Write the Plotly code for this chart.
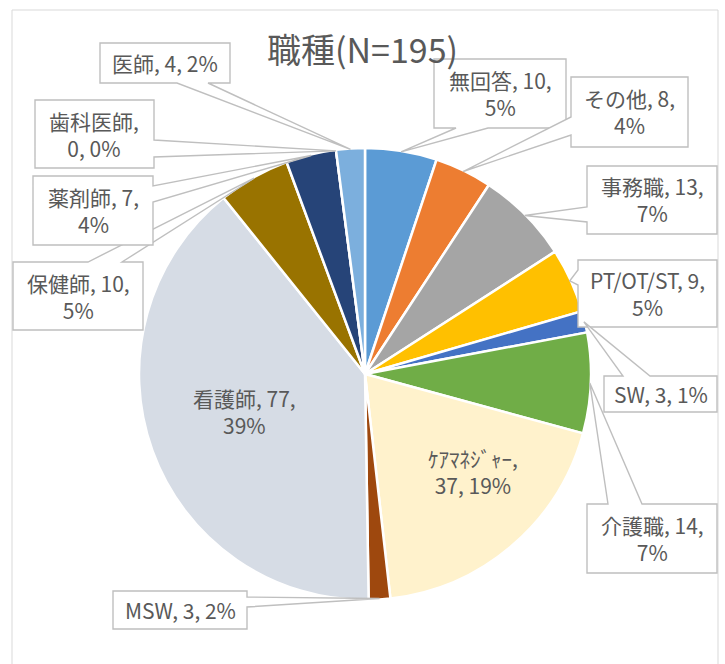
import math
import plotly.graph_objects as go

# ---------------- data ----------------
categories = ["無回答", "その他", "事務職", "PT/OT/ST", "SW", "介護職", "ｹｱﾏﾈｼﾞｬｰ",
              "MSW", "看護師", "保健師", "薬剤師", "歯科医師", "医師"]
counts = [10, 8, 13, 9, 3, 14, 37, 3, 77, 10, 7, 0, 4]
pct_labels = ["5%", "4%", "7%", "5%", "1%", "7%", "19%", "2%", "39%", "5%", "4%", "0%", "2%"]
title_text = "職種(N=195)"

# ---------------- style / layout ----------------
colors = ["#5B9BD5", "#ED7D31", "#A5A5A5", "#FFC000", "#4472C4", "#70AD47", "#FFF2CC",
          "#9E480E", "#D6DCE5", "#997300", "#264478", "#636363", "#7CAFDD"]
W, H = 725, 664
CX, CY, R = 365, 374, 226
FONT = "Noto Sans CJK JP"
TXT = "#595959"
LINE = "#BFBFBF"

# line-break style per label: 'name' -> break after name, 'value' -> after value, None -> single line
breaks = ["value", "value", "value", "value", None, "value", "name",
          None, "value", "value", "value", "name", None]
# callout boxes (x0, y0, x1, y1) in pixels, side of wedge, wedge base positions; None -> inside label
callouts = [
    ((434, 59, 566, 128), "bottom", 456, 488),
    ((571, 77, 688, 147), "left", 117, 135),
    ((587, 166, 717, 234), "left", 207, 222),
    ((578, 260, 717, 327), "left", 270, 285),
    ((604, 376, 717, 412), "top", 623, 650),
    ((587, 504, 717, 573), "top", 608, 642),
    None,
    ((113, 591, 247, 629), "right", 597, 607),
    None,
    ((13, 262, 143, 330), "top", 88, 122),
    ((33, 176, 153, 245), "right", 186, 202),
    ((35, 100, 154, 168), "right", 140, 157),
    ((100, 43, 230, 83), "bottom", 177, 208),
]
inside_pos = {6: (473, 471), 8: (244, 411)}


def px(x):
    return x / W


def py(y):
    return 1 - y / H


total = sum(counts)

fig = go.Figure(go.Pie(
    labels=categories, values=counts, sort=False, direction="clockwise", rotation=0,
    marker=dict(colors=colors, line=dict(color="white", width=2.5)),
    textinfo="none", hoverinfo="label+value+percent", showlegend=False,
    domain=dict(x=[px(CX - R), px(CX + R)], y=[py(CY + R), py(CY - R)]),
))

shapes = [dict(type="rect", xref="paper", yref="paper", x0=px(12), x1=px(718), y0=py(10), y1=py(680),
               line=dict(color="#D9D9D9", width=1), fillcolor="rgba(0,0,0,0)", layer="below")]
annotations = [dict(text=title_text, x=px(362), y=py(48), xref="paper", yref="paper",
                    xanchor="center", yanchor="middle", showarrow=False,
                    font=dict(family=FONT, size=34, color=TXT))]

cum = 0
for i, (cat, v, p) in enumerate(zip(categories, counts, pct_labels)):
    ang = math.radians((cum + v / 2) / total * 360)
    cum += v
    tip = (CX + (R - 1) * math.sin(ang), CY - (R - 1) * math.cos(ang))
    if breaks[i] == "name":
        txt = f"{cat},<br>{v}, {p}"
    elif breaks[i] == "value":
        txt = f"{cat}, {v},<br>{p}"
    else:
        txt = f"{cat}, {v}, {p}"
    c = callouts[i]
    if c is None:
        tx, ty = inside_pos[i]
    else:
        (x0, y0, x1, y1), side, a, b = c
        pts = [(x0, y0)]
        if side == "top":
            pts += [(a, y0), tip, (b, y0)]
        pts.append((x1, y0))
        if side == "right":
            pts += [(x1, a), tip, (x1, b)]
        pts.append((x1, y1))
        if side == "bottom":
            pts += [(b, y1), tip, (a, y1)]
        pts.append((x0, y1))
        if side == "left":
            pts += [(x0, b), tip, (x0, a)]
        path = "M " + " L ".join(f"{px(X):.5f},{py(Y):.5f}" for X, Y in pts) + " Z"
        shapes.append(dict(type="path", xref="paper", yref="paper", path=path,
                           line=dict(color=LINE, width=1.4), fillcolor="white", layer="above"))
        tx, ty = (x0 + x1) / 2, (y0 + y1) / 2
    annotations.append(dict(text=txt, x=px(tx), y=py(ty), xref="paper", yref="paper",
                            xanchor="center", yanchor="middle", showarrow=False, align="center",
                            font=dict(family=FONT, size=21, color=TXT)))

fig.update_layout(width=W, height=H, margin=dict(l=0, r=0, t=0, b=0),
                  paper_bgcolor="white", plot_bgcolor="white",
                  shapes=shapes, annotations=annotations)
fig.write_html("out.html")
